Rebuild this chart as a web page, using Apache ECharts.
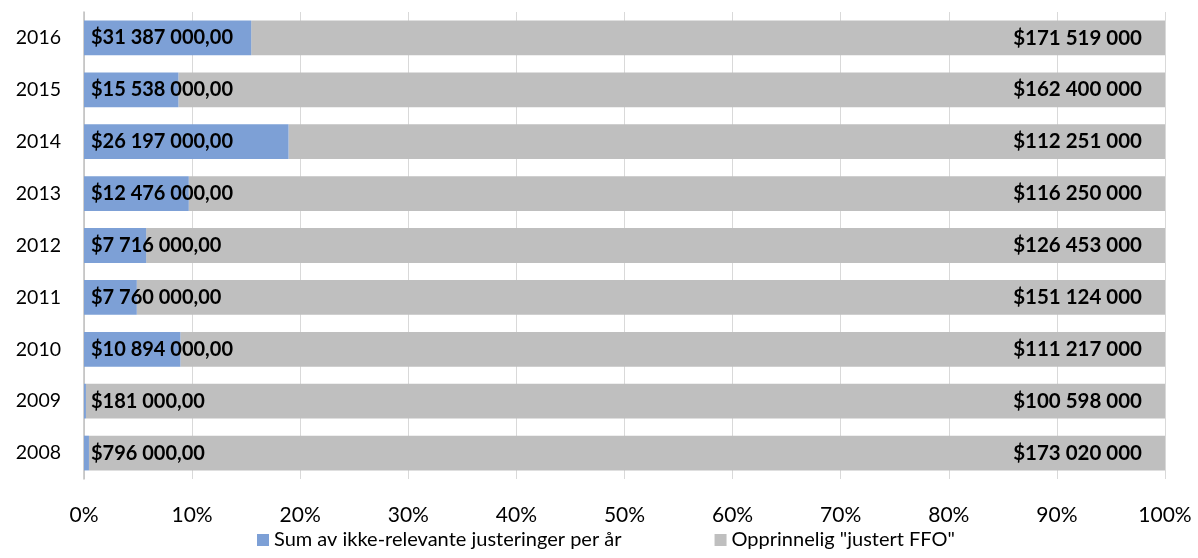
<!DOCTYPE html>
<html><head><meta charset="utf-8">
<script src="https://cdn.jsdelivr.net/npm/echarts@6/dist/echarts.min.js"></script>
<style>html,body{margin:0;padding:0;background:#fff}#c{width:1198px;height:558px}</style>
</head><body><div id="c"></div>
<script>
const years = ['2008','2009','2010','2011','2012','2013','2014','2015','2016'];
const adjustments = [796000, 181000, 10894000, 7760000, 7716000, 12476000, 26197000, 15538000, 31387000];
const ffo = [173020000, 100598000, 111217000, 151124000, 126453000, 116250000, 112251000, 162400000, 171519000];
const seriesNames = ['Sum av ikke-relevante justeringer per år', 'Opprinnelig "justert FFO"'];

function fmt(v) { return String(v).replace(/\B(?=(\d{3})+(?!\d))/g, ' '); }
const FONT = 'Lato, "Open Sans", sans-serif';

const adjPct = adjustments.map((v, i) => ({ value: v / (v + ffo[i]) * 100, raw: v }));
const ffoPct = ffo.map((v, i) => ({ value: v / (v + adjustments[i]) * 100, raw: v }));

const chart = echarts.init(document.getElementById('c'));
chart.setOption({
  animation: false,
  textStyle: { fontFamily: FONT },
  grid: { left: 84, right: 33, top: 12, bottom: 79 },
  legend: {
    bottom: 3, left: 252, itemWidth: 12, itemHeight: 12, itemGap: 93,
    icon: 'rect',
    textStyle: { fontSize: 20, color: '#000', fontFamily: FONT },
    data: seriesNames
  },
  xAxis: {
    type: 'value', min: 0, max: 100, interval: 10,
    axisLabel: { formatter: '{value}%', fontSize: 21, color: '#000', margin: 26, fontFamily: FONT },
    axisLine: { show: false }, axisTick: { show: false },
    splitLine: { show: true, lineStyle: { color: '#d9d9d9', width: 1 } }
  },
  yAxis: {
    type: 'category', data: years,
    axisLabel: { fontSize: 19.5, color: '#000', margin: 23, fontFamily: FONT },
    axisLine: { show: true, lineStyle: { color: '#bfbfbf', width: 1.5 } },
    axisTick: { show: false }
  },
  series: [
    {
      name: seriesNames[0], type: 'bar', stack: 't', barCategoryGap: '33%',
      data: adjPct,
      itemStyle: { color: '#7da0d6' },
      label: {
        show: true, position: 'insideLeft', distance: 7,
        fontSize: 20, fontWeight: 'bold', color: '#000', fontFamily: FONT,
        formatter: p => '$' + fmt(p.data.raw) + ',00'
      },
      z: 3
    },
    {
      name: seriesNames[1], type: 'bar', stack: 't',
      data: ffoPct,
      itemStyle: { color: '#bfbfbf' },
      label: {
        show: true, position: 'insideRight', distance: 23,
        fontSize: 20.5, fontWeight: 'bold', color: '#000', fontFamily: FONT,
        formatter: p => '$' + fmt(p.data.raw)
      },
      z: 2
    }
  ]
});
</script></body></html>
